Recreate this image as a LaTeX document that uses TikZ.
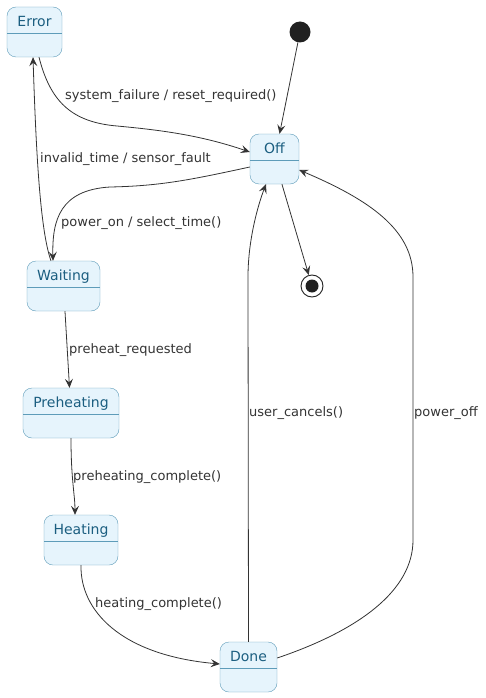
\documentclass[tikz,border=0pt]{standalone}
\usepackage{fontspec}
\setmainfont{DejaVu Sans}
\usepackage{xcolor}
\usepackage{tikz}
\usetikzlibrary{arrows.meta, positioning}

\definecolor{statefill}{HTML}{E6F4FC}
\definecolor{stateline}{HTML}{5E9CB9}
\definecolor{statetext}{HTML}{1B5E80}
\definecolor{edgecol}{HTML}{333333}

\begin{document}
\begin{tikzpicture}[
    x=1pt, y=-1pt,
    state/.style={draw=stateline, fill=statefill, rectangle, rounded corners=9pt, minimum height=50pt, minimum width=#1, inner xsep=2pt, inner ysep=0pt, text height=19.5pt, text depth=30.5pt, align=center, text=statetext, font=\fontsize{14}{16}\selectfont,
        path picture={\draw[stateline] ([yshift=-26.5pt]path picture bounding box.north west) -- ([yshift=-26.5pt]path picture bounding box.north east);}},
    startstate/.style={circle, fill=black!87, minimum size=21pt, inner sep=0pt},
    endstate/.style={circle, draw=black!87, fill=white, line width=0.9pt, minimum size=22pt, inner sep=0pt,
        path picture={\fill[black!87] (path picture bounding box.center) circle (6.5pt);}},
    trans/.style={anchor=west, inner sep=0pt, text=edgecol, font=\fontsize{13}{15}\selectfont},
    arrow/.style={-{Stealth[length=9pt, width=8pt, inset=3.5pt]}, draw=edgecol, line width=0.8pt}
]
\useasboundingbox (0,0) rectangle (486,698);

% states
\node[state=55pt] (error) at (34.5,32) {Error};
\node[state=49pt] (off) at (274.5,159) {Off};
\node[state=73pt] (waiting) at (63.5,286) {Waiting};
\node[state=96pt] (preheating) at (71,413) {Preheating};
\node[state=74pt] (heating) at (81,540) {Heating};
\node[state=57pt] (done) at (248.5,667) {Done};
\node[startstate] (init) at (300,32) {};
\node[endstate] (final) at (312,286) {};

% transitions
\draw[arrow] (init) -- (off);
\draw[arrow] (off) -- (final);
\draw[arrow] ([xshift=4.5pt]error.south) .. controls (50,100) and (70,122) .. (117,126)
    .. controls (160,130) and (200,135) .. ([yshift=7pt]off.west);
\draw[arrow] ([xshift=-12.5pt]waiting.north) .. controls (40,230) and (36,150) .. ([xshift=-1.5pt]error.south);
\draw[arrow] ([yshift=-8pt]off.west) .. controls (190,180) and (160,186) .. (110,187)
    .. controls (60,190) and (52,220) .. ([xshift=-10.5pt]waiting.north);
\draw[arrow] (waiting) -- (preheating);
\draw[arrow] (preheating.south) .. controls (71,480) and (75,495) .. ([xshift=-6pt]heating.north);
\draw[arrow] (heating.south) .. controls (80,610) and (120,655) .. ([yshift=3pt]done.west);
\draw[arrow] (done.north) -- (248,277) .. controls (248,240) and (258,205) .. ([xshift=-8.5pt]off.south);
\draw[arrow] ([yshift=9pt]done.east) .. controls (360,630) and (413,590) .. (413,540) -- (413,277)
    .. controls (413,230) and (370,200) .. ([yshift=-11pt]off.east);

% labels
\node[trans] (lfailure) at (65,96) {system\_failure / reset\_required()};
\node[trans] (linvalid) at (40,159) {invalid\_time / sensor\_fault};
\node[trans] (lpoweron) at (61,223) {power\_on / select\_time()};
\node[trans] (lpreheat) at (69,350) {preheat\_requested};
\node[trans] (lpreheated) at (73,477) {preheating\_complete()};
\node[trans] (lheated) at (95,604) {heating\_complete()};
\node[trans] (lcancel) at (249,413) {user\_cancels()};
\node[trans] (lpoweroff) at (414,413) {power\_off};

\end{tikzpicture}
\end{document}
